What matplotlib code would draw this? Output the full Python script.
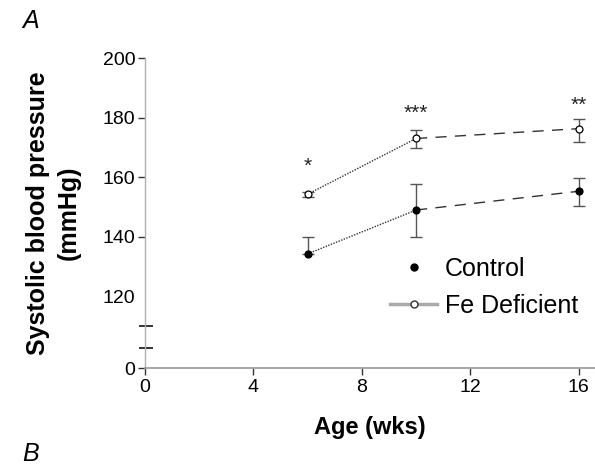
import matplotlib.pyplot as plt
from matplotlib.lines import Line2D
import numpy as np

# data
ages = [6, 10, 16]
control = [134.3, 149.0, 155.3]
control_lo = [0.0, 9.0, 5.0]
control_hi = [5.7, 8.7, 4.4]
fe_def = [154.3, 173.0, 176.3]
fe_lo = [0.8, 3.3, 4.6]
fe_hi = [0.8, 2.7, 3.4]
stars = ['*', '***', '**']
star_y = [163.5, 181.5, 184.0]

y_ticks = [120, 140, 160, 180, 200]
x_ticks = [0, 4, 8, 12, 16]
x_labels = ['0', '4', '8', '12', '16']

plt.rcParams['font.family'] = ['Liberation Sans', 'DejaVu Sans']

fig = plt.figure(figsize=(5.95, 4.66), dpi=100)
ax = fig.add_axes([0.2437, 0.2103, 0.7563, 0.6652])

# broken axis: the value 0 sits just below 120, so draw the "0" tick at 96
y_zero = 96
ax.set_ylim(y_zero, 200)
ax.set_xlim(0, 16.6)

line_col = '#333333'
ms = 5
# dotted between first two points, dashed after
for series, lo, hi, mfc in [(control, control_lo, control_hi, 'black'),
                            (fe_def, fe_lo, fe_hi, 'white')]:
    ax.plot(ages[:2], series[:2], linestyle=(0, (1, 1)), color=line_col, lw=1.0, zorder=2)
    ax.plot(ages[1:], series[1:], linestyle=(0, (8, 6)), color=line_col, lw=1.0, zorder=2)
    ax.errorbar(ages, series, yerr=[lo, hi], fmt='none', ecolor='#555555',
                elinewidth=1.0, capsize=4, capthick=1.0, zorder=3)
    ax.plot(ages, series, linestyle='none', marker='o', ms=ms, mfc=mfc,
            mec='black', mew=0.9, zorder=4)

for x, s, y in zip(ages, stars, star_y):
    ax.text(x, y, s, ha='center', va='center', fontsize=15, color='#222222')

# ticks
ax.set_yticks([y_zero] + y_ticks)
ax.set_yticklabels(['0'] + [str(t) for t in y_ticks])
ax.set_xticks(x_ticks)
ax.set_xticklabels(x_labels)
ax.tick_params(axis='both', labelsize=14, length=5, width=1.0, color='#333333', pad=3)
ax.tick_params(axis='y', pad=2)
for t in ax.yaxis.get_major_ticks():
    if t.get_loc() == 120:
        t.tick1line.set_visible(False)

for side in ['top', 'right']:
    ax.spines[side].set_visible(False)
ax.spines['left'].set_color('#b0b0b0')
ax.spines['bottom'].set_color('#999999')
ax.spines['left'].set_linewidth(1.0)
ax.spines['bottom'].set_linewidth(1.2)

# break marks on the y axis
for yb in [110, 102.7]:
    ax.plot([-0.011, 0.016], [yb, yb], transform=ax.get_yaxis_transform(),
            color='#333333', lw=1.4, clip_on=False)

ax.set_xlabel('Age (wks)', fontsize=17, fontweight='bold', labelpad=14)
ax.set_ylabel('Systolic blood pressure\n(mmHg)', fontsize=18, fontweight='bold',
              labelpad=16, linespacing=1.35)

# legend
handles = [Line2D([], [], linestyle='none', marker='o', ms=5, mfc='black', mec='black'),
           Line2D([], [], color='#aaaaaa', lw=2.5, marker='o', ms=5, mfc='white', mec='#333333')]
ax.legend(handles, ['Control', 'Fe Deficient'], loc='center left',
          bbox_to_anchor=(0.544, 0.26), frameon=False, fontsize=18,
          handlelength=1.9, handletextpad=0.3, labelspacing=0.5,
          borderpad=0, borderaxespad=0)

fig.text(0.037, 0.955, 'A', fontsize=18, fontstyle='italic', ha='left', va='center')
fig.text(0.037, 0.025, 'B', fontsize=18, fontstyle='italic', ha='left', va='center')

fig.savefig('out.png', dpi=100)
